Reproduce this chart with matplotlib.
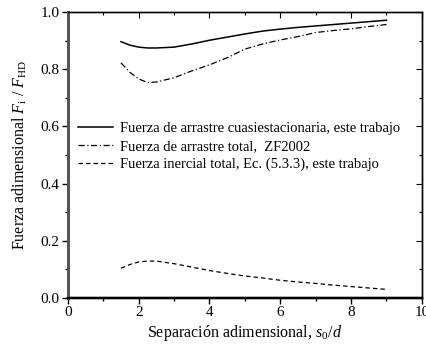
import matplotlib
matplotlib.use("Agg")
import matplotlib.pyplot as plt
from matplotlib.ticker import MultipleLocator

plt.rcParams['font.family'] = ['Liberation Serif', 'DejaVu Serif']
plt.rcParams['mathtext.fontset'] = 'custom'
plt.rcParams['mathtext.rm'] = 'Liberation Serif'
plt.rcParams['mathtext.it'] = 'Liberation Serif:italic'

# separation s0/d
sep = [1.5, 1.75, 2.0, 2.25, 2.5, 3.0, 3.5, 4.0, 4.5, 5.0, 5.5, 6.0,
       6.5, 7.0, 7.5, 8.0, 8.5, 9.0]

# quasi-steady drag (this work)
drag_qs = [0.896, 0.884, 0.877, 0.874, 0.874, 0.877, 0.888, 0.901, 0.912,
           0.923, 0.933, 0.940, 0.946, 0.951, 0.956, 0.961, 0.966, 0.971]
# total drag, ZF2002
drag_zf = [0.822, 0.789, 0.766, 0.753, 0.755, 0.770, 0.794, 0.815, 0.840,
           0.870, 0.888, 0.902, 0.914, 0.928, 0.935, 0.941, 0.949, 0.956]
# total inertial force
inertial = [0.104, 0.117, 0.126, 0.129, 0.129, 0.120, 0.108, 0.096, 0.086,
            0.077, 0.070, 0.062, 0.056, 0.051, 0.045, 0.040, 0.035, 0.030]

labels = ["Fuerza de arrastre cuasiestacionaria, este trabajo",
          "Fuerza de arrastre total,  ZF2002",
          "Fuerza inercial total, Ec. (5.3.3), este trabajo"]

fig = plt.figure(figsize=(4.27, 3.51), dpi=100)
ax = fig.add_axes([0.159, 0.151, 0.829, 0.815])

ax.plot(sep, drag_qs, color='black', lw=1.1, linestyle='-', label=labels[0])
ax.plot(sep, drag_zf, color='black', lw=0.9, linestyle=(0, (5, 2, 1, 2)), label=labels[1])
ax.plot(sep, inertial, color='black', lw=0.9, linestyle=(0, (3.5, 2.5)), label=labels[2])

ax.set_xlim(0, 10)
ax.set_ylim(0, 1.0)
ax.xaxis.set_major_locator(MultipleLocator(2))
ax.xaxis.set_minor_locator(MultipleLocator(1))
ax.yaxis.set_major_locator(MultipleLocator(0.2))
ax.yaxis.set_minor_locator(MultipleLocator(0.1))
ax.xaxis.set_major_formatter(matplotlib.ticker.FormatStrFormatter('%d'))
ax.yaxis.set_major_formatter(matplotlib.ticker.FormatStrFormatter('%.1f'))

ax.tick_params(which='both', direction='out', labelsize=11, width=1, top=False, right=False)
ax.tick_params(which='major', length=4, pad=2)
ax.tick_params(which='minor', length=2.5)

# inward ticks on the top and right frame
ax2 = ax.twinx()
ax2.set_ylim(0, 1.0)
ax2.yaxis.set_major_locator(MultipleLocator(0.2))
ax2.yaxis.set_minor_locator(MultipleLocator(0.1))
ax2.tick_params(which='both', direction='in', labelright=False, width=0.8)
ax2.tick_params(which='major', length=4)
ax2.tick_params(which='minor', length=2.5)
ax3 = ax.twiny()
ax3.set_xlim(0, 10)
ax3.xaxis.set_major_locator(MultipleLocator(2))
ax3.xaxis.set_minor_locator(MultipleLocator(1))
ax3.tick_params(which='both', direction='in', labeltop=False, width=0.8)
ax3.tick_params(which='major', length=4)
ax3.tick_params(which='minor', length=2.5)

for a in (ax, ax2, ax3):
    a.spines['left'].set_color('#555555')
    a.spines['left'].set_linewidth(2.0)
    a.spines['bottom'].set_linewidth(1.6)
    a.spines['top'].set_linewidth(0.9)
    a.spines['right'].set_linewidth(0.9)

ax.set_xlabel("Separación adimensional, $\\mathit{s}_{\\mathrm{0}}$/$\\mathit{d}$",
              fontsize=11.5, labelpad=3)
ax.set_ylabel("Fuerza adimensional $\\mathit{F}_{\\mathrm{i}}$ / $\\mathit{F}_{\\mathrm{HD}}$",
              fontsize=11.5, labelpad=8)

ax.legend(loc='upper left', bbox_to_anchor=(0.0, 0.65), frameon=False,
          fontsize=10.5, handlelength=2.4, handletextpad=0.45,
          labelspacing=0.32, borderaxespad=0.3)

fig.savefig("out.png", dpi=100)
